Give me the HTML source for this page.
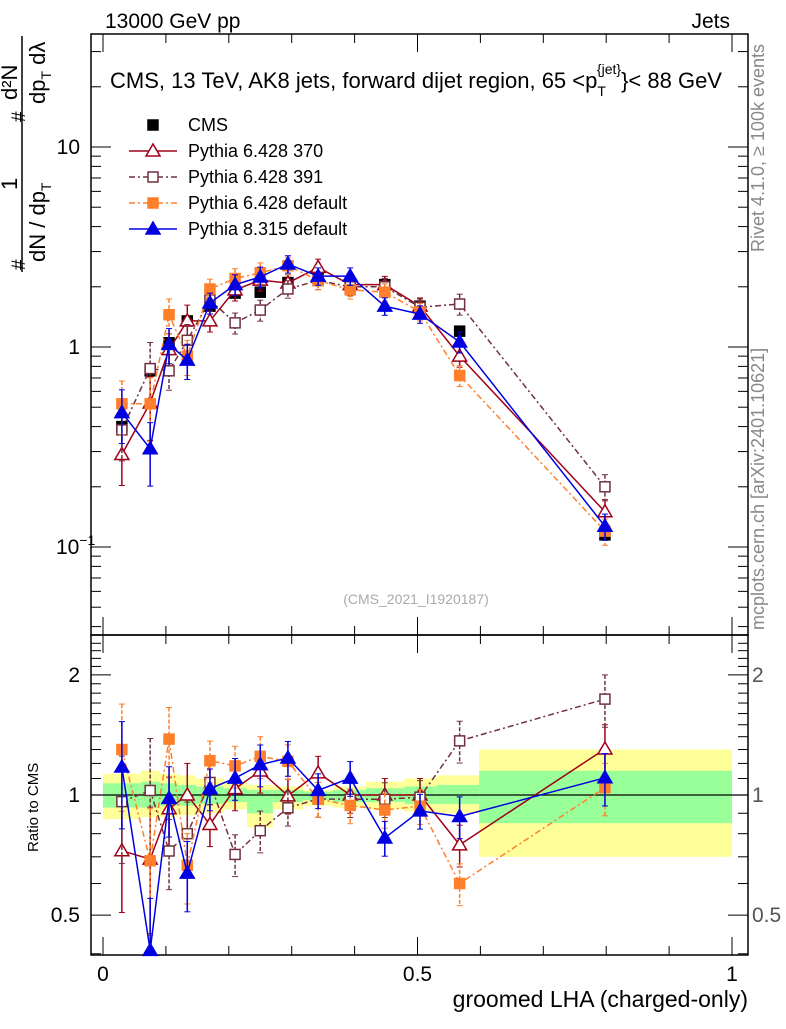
<!DOCTYPE html>
<html><head><meta charset="utf-8"><style>
body{margin:0;background:#fff;width:786px;height:1024px;overflow:hidden}
svg{font-family:"Liberation Sans",sans-serif}
</style></head><body>
<svg id="c" width="786" height="1024" xmlns="http://www.w3.org/2000/svg">
<g id="bands"></g>
<g id="axes"></g>
<g id="series"></g>
<text x="105" y="28" font-size="21">13000 GeV pp</text>
<text x="730" y="28" font-size="21" text-anchor="end">Jets</text>
<text x="416" y="88" font-size="22" text-anchor="middle">CMS, 13 TeV, AK8 jets, forward dijet region, 65 &lt;p<tspan font-size="14" dy="8">T</tspan><tspan font-size="14" dy="-22" dx="-9">{jet}</tspan><tspan dy="14">}&lt; 88 GeV</tspan></text>
<text x="416" y="604" font-size="14" fill="#aaa" text-anchor="middle">(CMS_2021_I1920187)</text>
<text transform="translate(764,252) rotate(-90)" font-size="18" fill="#888">Rivet 4.1.0, ≥ 100k events</text>
<text transform="translate(764,630) rotate(-90)" font-size="18" fill="#888">mcplots.cern.ch [arXiv:2401.10621]</text>
<text transform="translate(38,852) rotate(-90)" font-size="15">Ratio to CMS</text>
<text x="748" y="1007" font-size="23" text-anchor="end">groomed LHA (charged-only)</text>
<g font-size="22">
<line x1="22" y1="272" x2="22" y2="36" stroke="#000" stroke-width="1.5"/>
<text transform="translate(17,190) rotate(-90)">1</text>
<text transform="translate(25,270) rotate(-90)" font-size="19">#</text>
<text transform="translate(45,262) rotate(-90)">dN / dp<tspan font-size="14" dy="6">T</tspan></text>
<text transform="translate(25,122) rotate(-90)" font-size="19">#</text>
<text transform="translate(17,100) rotate(-90)">d²N</text>
<text transform="translate(45,104) rotate(-90)">dp<tspan font-size="14" dy="6">T</tspan><tspan dy="-6"> dλ</tspan></text>
</g>
<g id="legend"></g>
</svg>
<script>
const xs=[0.030,0.075,0.105,0.134,0.170,0.210,0.250,0.294,0.342,0.393,0.448,0.504,0.567,0.798];
const cms=[0.40,0.76,1.05,1.35,1.6,1.86,1.88,2.1,2.2,2.05,2.05,1.6,1.2,0.115];
const p370=[0.29,0.525,0.97,1.35,1.35,1.93,2.16,2.09,2.5,2.05,2.05,1.6,0.9,0.15];
const p391=[0.385,0.78,0.76,1.08,1.72,1.32,1.53,1.95,2.15,2.0,2.0,1.58,1.64,0.2];
const p6def=[0.52,0.52,1.45,0.9,1.95,2.2,2.35,2.55,2.15,1.93,1.88,1.5,0.72,0.12];
const p8=[0.47,0.31,1.03,0.86,1.66,2.05,2.24,2.6,2.26,2.26,1.6,1.46,1.06,0.127];
const relErr=[0.3,0.35,0.2,0.2,0.12,0.12,0.12,0.1,0.1,0.1,0.1,0.1,0.12,0.15];
const binEdges=[0,0.060,0.090,0.119,0.148,0.192,0.229,0.270,0.318,0.366,0.418,0.479,0.530,0.598,1.0];
const yelHi=[1.13,1.15,1.13,1.12,1.10,1.08,1.06,1.05,1.03,1.05,1.08,1.10,1.12,1.30];
const yelLo=[0.87,0.88,0.88,0.89,0.90,0.92,0.83,0.92,0.94,0.93,0.92,0.91,0.90,0.70];
const grnHi=[1.07,1.08,1.07,1.06,1.05,1.04,1.03,1.03,1.02,1.03,1.04,1.05,1.06,1.15];
const grnLo=[0.93,0.93,0.94,0.94,0.95,0.96,0.90,0.96,0.97,0.96,0.96,0.95,0.95,0.85];
const NS="http://www.w3.org/2000/svg";
const L=91,R=748,T=34,M=635,B=955;
const X=v=>103+v*629;
const Y=v=>347-200*Math.log10(v);
const RY=v=>795-399*Math.log10(v);
function mk(tag,at,par){const e=document.createElementNS(NS,tag);for(const k in at)e.setAttribute(k,at[k]);par.appendChild(e);return e;}
const ax=document.getElementById('axes'),bd=document.getElementById('bands'),sr=document.getElementById('series'),lg=document.getElementById('legend');
for(let i=0;i<binEdges.length-1;i++){
 const x1=X(binEdges[i]),x2=X(binEdges[i+1]);
 const y=mk('rect',{x:x1,y:RY(yelHi[i]),width:x2-x1,height:RY(yelLo[i])-RY(yelHi[i]),fill:'#ffff99'},bd);
 
 
 const g=mk('rect',{x:x1,y:RY(grnHi[i]),width:x2-x1,height:RY(grnLo[i])-RY(grnHi[i]),fill:'#99ff99'},bd);
 
 
}
mk('rect',{x:L,y:T,width:R-L,height:M-T,fill:'none',stroke:'#000','stroke-width':1.5},ax);
mk('rect',{x:L,y:M,width:R-L,height:B-M,fill:'none',stroke:'#000','stroke-width':1.5},ax);
mk('line',{x1:L,x2:R,y1:RY(1),y2:RY(1),stroke:'#000','stroke-width':1.2},ax);
for(let k=0;k<=10;k++){const v=k/10,x=X(v),len=(k%5==0)?18:9;
 for(const [y0,s] of [[B,-1],[M,1],[M,-1],[T,1]]) mk('line',{x1:x,x2:x,y1:y0,y2:y0+s*len,stroke:'#000'},ax);}
[[0,'0'],[0.5,'0.5'],[1,'1']].forEach(([v,t])=>{const e=mk('text',{x:X(v),y:981,'font-size':21,'text-anchor':'middle'},ax);e.textContent=t;});
for(let d=-2;d<=1;d++)for(let m=1;m<10;m++){const v=m*Math.pow(10,d),y=Y(v);if(y<T||y>M)continue;const len=m==1?20:10;
 mk('line',{x1:L,x2:L+len,y1:y,y2:y,stroke:'#000'},ax);mk('line',{x1:R,x2:R-len,y1:y,y2:y,stroke:'#000'},ax);}
[[10,'10'],[1,'1']].forEach(([v,t])=>{const e=mk('text',{x:80,y:Y(v)+7,'font-size':21,'text-anchor':'end'},ax);e.textContent=t;});
{const e=mk('text',{x:56,y:Y(0.1)+7,'font-size':21},ax);e.innerHTML='10<tspan font-size="14" dy="-9">−1</tspan>';}
for(let v=0.4;v<=2.5;v+=0.1){const y=RY(v);if(y<M||y>B)continue;const maj=[0.5,1,2].some(a=>Math.abs(a-v)<1e-6);const len=maj?20:10;
 mk('line',{x1:L,x2:L+len,y1:y,y2:y,stroke:'#000'},ax);mk('line',{x1:R,x2:R-len,y1:y,y2:y,stroke:'#000'},ax);}
[[2,'2'],[1,'1'],[0.5,'0.5']].forEach(([v,t])=>{let e=mk('text',{x:80,y:RY(v)+7,'font-size':21,'text-anchor':'end'},ax);e.textContent=t;
 e=mk('text',{x:752,y:RY(v)+7,'font-size':21,fill:'#555'},ax);e.textContent=t;});
const defs=[
 {name:'cms',vals:cms,col:'#000',dash:'',mark:'sq',fill:'#000',line:false,label:'CMS'},
 {name:'pythia6-370',vals:p370,col:'#a00018',dash:'',mark:'tri',fill:'#fff',line:true,label:'Pythia 6.428 370'},
 {name:'pythia6-391',vals:p391,col:'#70303f',dash:'6,3,2,3',mark:'sq',fill:'#fff',line:true,label:'Pythia 6.428 391'},
 {name:'pythia6-default',vals:p6def,col:'#ff7f2a',dash:'6,3,2,3',mark:'sq',fill:'#ff7f2a',line:true,label:'Pythia 6.428 default'},
 {name:'pythia8-default',vals:p8,col:'#0000e0',dash:'',mark:'tri',fill:'#0000e0',line:true,label:'Pythia 8.315 default'}];
function marker(g,type,x,y,col,fill,name){let e;
 if(type=='sq')e=mk('rect',{x:x-5,y:y-5,width:10,height:10,fill:fill,stroke:col,'stroke-width':1.5},g);
 else e=mk('polygon',{points:`${x},${y-7} ${x-7},${y+5} ${x+7},${y+5}`,fill:fill,stroke:col,'stroke-width':1.5},g);
 
 }
function clampR(y){return Math.max(M,Math.min(B,y));}
defs.forEach(s=>{
 const g=mk('g',{},sr);
 
 
 const rat=s.vals.map((v,i)=>v/cms[i]);
 if(s.line){
  mk('polyline',{points:xs.map((x,i)=>X(x)+','+Y(s.vals[i])).join(' '),fill:'none',stroke:s.col,'stroke-width':1.5,'stroke-dasharray':s.dash},g);
  mk('polyline',{points:xs.map((x,i)=>X(x)+','+clampR(RY(rat[i]))).join(' '),fill:'none',stroke:s.col,'stroke-width':1.5,'stroke-dasharray':s.dash},g);
  xs.forEach((x,i)=>{const e=relErr[i];const px=X(x);
   [[Y(s.vals[i]*(1+e)),Y(s.vals[i]*(1-e))],[clampR(RY(rat[i]*(1+e))),clampR(RY(rat[i]*(1-e)))]].forEach(([a,b])=>{
    mk('line',{x1:px,x2:px,y1:a,y2:b,stroke:s.col,'stroke-width':1.5,'stroke-dasharray':s.dash?'4,2':''},g);
    mk('line',{x1:px-3,x2:px+3,y1:a,y2:a,stroke:s.col},g);mk('line',{x1:px-3,x2:px+3,y1:b,y2:b,stroke:s.col},g);});
  });
 }
 xs.forEach((x,i)=>{marker(g,s.mark,X(x),Y(s.vals[i]),s.col,s.fill,s.name+'-point');
  if(s.line){const ry=RY(rat[i]);if(ry>=M&&ry<=B)marker(g,s.mark,X(x),ry,s.col,s.fill,s.name+'-ratio-point');}});
});
defs.forEach((s,i)=>{const y=125+i*26;
 const g=mk('g',{},lg);
 
 
 if(s.line)mk('line',{x1:129,x2:177,y1:y,y2:y,stroke:s.col,'stroke-width':1.5,'stroke-dasharray':s.dash},g);
 marker(g,s.mark,153,y,s.col,s.fill,'legend-marker');
 const t=mk('text',{x:188,y:y+6,'font-size':18},g);t.textContent=s.label;});
</script>
</body></html>
